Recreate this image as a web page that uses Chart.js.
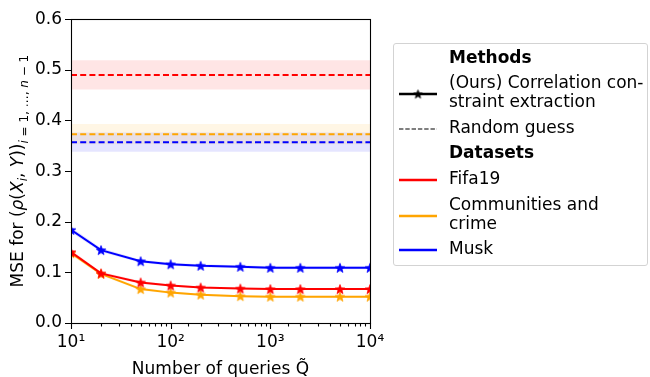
<!DOCTYPE html>
<html>
<head>
<meta charset="utf-8">
<script src="https://cdn.jsdelivr.net/npm/chart.js@4.4.1/dist/chart.umd.min.js"></script>
<style>
  html, body { margin: 0; padding: 0; background: #fff; }
  #wrap { position: relative; width: 650px; height: 377px; overflow: hidden; font-family: "DejaVu Sans", sans-serif; }
  #c { position: absolute; left: 0; top: 0; }
  #legend { position: absolute; left: 393px; top: 43px; width: 255px; height: 223px; box-sizing: border-box;
            border: 1px solid #d3d3d3; border-radius: 3px; background: rgba(255,255,255,0.8); }
  .row { position: absolute; left: 55px; font-size: 17px; line-height: 19px; color: #000; white-space: nowrap; }
  .bold { font-weight: bold; }
</style>
</head>
<body>
<div id="wrap">
  <canvas id="c" width="650" height="377"></canvas>
  <div id="legend"></div>
</div>
<script>
// ---- data ----
const queries   = [10, 20, 50, 100, 200, 500, 1000, 2000, 5000, 10000];
const fifaMSE   = [0.140, 0.098, 0.080, 0.074, 0.070, 0.068, 0.067, 0.067, 0.067, 0.067];
const crimeMSE  = [0.138, 0.097, 0.067, 0.060, 0.056, 0.053, 0.052, 0.052, 0.052, 0.052];
const muskMSE   = [0.184, 0.144, 0.122, 0.116, 0.113, 0.111, 0.109, 0.109, 0.109, 0.109];
const fifaStd   = [0.004, 0.003, 0.003, 0.002, 0.002, 0.002, 0.002, 0.002, 0.002, 0.002];
const crimeStd  = [0.004, 0.003, 0.003, 0.002, 0.002, 0.002, 0.002, 0.002, 0.002, 0.002];
const muskStd   = [0.005, 0.004, 0.003, 0.003, 0.003, 0.003, 0.003, 0.003, 0.003, 0.003];
const datasetNames = ['Fifa19', 'Communities and crime', 'Musk'];
const randomMean = [0.490, 0.373, 0.357];
const randomStd  = [0.029, 0.020, 0.019];
const yTicks = [0.0, 0.1, 0.2, 0.3, 0.4, 0.5, 0.6];
const xRange = [10, 10000];
const legendMethods = ['(Ours) Correlation con-\nstraint extraction', 'Random guess'];
const legendDatasets = ['Fifa19', 'Communities and\ncrime', 'Musk'];

const colors = ['#ff0000', '#ffa500', '#0000ff'];
const bandColors = ['rgba(255,0,0,0.10)', 'rgba(255,165,0,0.10)', 'rgba(0,0,255,0.10)'];
const haloColors = ['rgba(255,0,0,0.12)', 'rgba(255,165,0,0.12)', 'rgba(0,0,255,0.12)'];
const series = [fifaMSE, crimeMSE, muskMSE];
const stds = [fifaStd, crimeStd, muskStd];

function starCanvas(color, r) {
  const s = Math.ceil(r * 2 + 2);
  const cv = document.createElement('canvas');
  cv.width = s; cv.height = s;
  const g = cv.getContext('2d');
  const cx = s / 2, cy = s / 2 + r * 0.1;
  g.beginPath();
  for (let i = 0; i < 10; i++) {
    const rad = i % 2 === 0 ? r : r * 0.42;
    const a = -Math.PI / 2 + i * Math.PI / 5;
    const px = cx + rad * Math.cos(a), py = cy + rad * Math.sin(a);
    i === 0 ? g.moveTo(px, py) : g.lineTo(px, py);
  }
  g.closePath();
  g.fillStyle = color; g.fill();
  g.lineWidth = 0.8; g.strokeStyle = color; g.stroke();
  return cv;
}

const datasets = [];
for (let k = 0; k < 3; k++) {
  datasets.push({
    data: xRange.map(x => ({x, y: randomMean[k] + randomStd[k]})),
    borderWidth: 0, pointRadius: 0, fill: '+1', backgroundColor: bandColors[k], order: 10
  });
  datasets.push({
    data: xRange.map(x => ({x, y: randomMean[k] - randomStd[k]})),
    borderWidth: 0, pointRadius: 0, fill: false, order: 10
  });
}
for (let k = 0; k < 3; k++) {
  datasets.push({
    data: queries.map((x, i) => ({x, y: series[k][i] + stds[k][i]})),
    borderWidth: 0, pointRadius: 0, fill: '+1', backgroundColor: haloColors[k], order: 9
  });
  datasets.push({
    data: queries.map((x, i) => ({x, y: series[k][i] - stds[k][i]})),
    borderWidth: 0, pointRadius: 0, fill: false, order: 9
  });
}
for (let k = 0; k < 3; k++) {
  datasets.push({
    label: 'Random guess ' + datasetNames[k],
    data: xRange.map(x => ({x, y: randomMean[k]})),
    borderColor: colors[k], borderWidth: 2, borderDash: [6, 3.2], pointRadius: 0, fill: false, order: 5
  });
}
for (let k = 0; k < 3; k++) {
  datasets.push({
    label: datasetNames[k],
    data: queries.map((x, i) => ({x, y: series[k][i]})),
    borderColor: colors[k], borderWidth: 2, fill: false, order: 1,
    pointStyle: starCanvas(colors[k], 5), pointRadius: 5
  });
}

const sup = {'0':'⁰','1':'¹','2':'²','3':'³','4':'⁴','5':'⁵','6':'⁶','7':'⁷','8':'⁸','9':'⁹'};
function isMajor(v) { const l = Math.log10(v); return Math.abs(l - Math.round(l)) < 1e-9; }

const frameTicks = {
  id: 'frameTicks',
  afterDraw(chart) {
    const ctx = chart.ctx, a = chart.chartArea;
    ctx.save();
    ctx.strokeStyle = '#000'; ctx.lineWidth = 1.1;
    ctx.strokeRect(Math.round(a.left) + 0.5, Math.round(a.top) + 0.5, Math.round(a.right - a.left), Math.round(a.bottom - a.top));
    const xs = chart.scales.x, ys = chart.scales.y;
    ctx.beginPath();
    xs.ticks.forEach(t => {
      const px = Math.round(xs.getPixelForValue(t.value)) + 0.5;
      const len = isMajor(t.value) ? 6 : 3.5;
      ctx.moveTo(px, a.bottom); ctx.lineTo(px, a.bottom + len);
    });
    ys.ticks.forEach(t => {
      const py = Math.round(ys.getPixelForValue(t.value)) + 0.5;
      ctx.moveTo(a.left, py); ctx.lineTo(a.left - 6, py);
    });
    ctx.stroke();
    const cy = (a.top + a.bottom) / 2;
    const parts = [
      ['MSE for (', '17px "DejaVu Sans"', 0],
      ['ρ', 'italic 17px "DejaVu Sans"', 0],
      ['(', '17px "DejaVu Sans"', 0],
      ['X', 'italic 17px "DejaVu Sans"', 0],
      ['i', 'italic 12px "DejaVu Sans"', 4],
      [', ', '17px "DejaVu Sans"', 0],
      ['Y', 'italic 17px "DejaVu Sans"', 0],
      ['))', '17px "DejaVu Sans"', 0],
      ['i', 'italic 12px "DejaVu Sans"', 5],
      [' = 1, …, ', '12px "DejaVu Sans"', 5],
      ['n', 'italic 12px "DejaVu Sans"', 5],
      [' − 1', '12px "DejaVu Sans"', 5]
    ];
    let total = 0;
    parts.forEach(p => { ctx.font = p[1]; total += ctx.measureText(p[0]).width; });
    ctx.translate(23, cy);
    ctx.rotate(-Math.PI / 2);
    ctx.fillStyle = '#000';
    ctx.textBaseline = 'alphabetic';
    let x = -total / 2;
    parts.forEach(p => { ctx.font = p[1]; ctx.fillText(p[0], x, p[2]); x += ctx.measureText(p[0]).width; });
    ctx.restore();
  }
};

new Chart(document.getElementById('c'), {
  type: 'line',
  data: { datasets },
  options: {
    responsive: false, animation: false, devicePixelRatio: 1,
    layout: { padding: { top: 14, right: 280, left: 0, bottom: 0 } },
    plugins: { legend: { display: false }, tooltip: { enabled: false } },
    elements: { line: { tension: 0 } },
    scales: {
      x: {
        type: 'logarithmic', min: xRange[0], max: xRange[1],
        grid: { display: false, drawTicks: false },
        border: { display: false },
        ticks: {
          autoSkip: false, maxRotation: 0, padding: 9, color: '#000',
          font: { family: 'DejaVu Sans', size: 17 },
          callback: v => isMajor(v) ? '10' + String(Math.round(Math.log10(v))).split('').map(c => sup[c]).join('') : ''
        },
        title: { display: true, text: 'Number of queries Q̃', color: '#000', font: { family: 'DejaVu Sans', size: 17 }, padding: { top: 0, bottom: -3 } },
        afterFit: s => { s.height = 54; }
      },
      y: {
        min: 0, max: 0.6,
        afterBuildTicks: s => { s.ticks = yTicks.map(v => ({ value: v })); },
        grid: { display: false, drawTicks: false },
        border: { display: false },
        ticks: { padding: 9, color: '#000', font: { family: 'DejaVu Sans', size: 17 }, callback: v => Number(v).toFixed(1) },
        afterFit: s => { s.width = 71; }
      }
    }
  },
  plugins: [frameTicks]
});

// ---- HTML legend ----
const leg = document.getElementById('legend');
function addRow(text, top, bold) {
  const d = document.createElement('div');
  d.className = 'row' + (bold ? ' bold' : '');
  d.style.top = top + 'px';
  d.innerHTML = text.split('\n').join('<br>');
  leg.appendChild(d);
}
function addHandle(top, color, dashed, star) {
  const cv = document.createElement('canvas');
  cv.width = 42; cv.height = 14;
  cv.style.position = 'absolute';
  cv.style.left = '4px';
  cv.style.top = (top - 7) + 'px';
  const g = cv.getContext('2d');
  g.strokeStyle = color;
  g.lineWidth = dashed ? 1.2 : 2.4;
  if (dashed) g.setLineDash([4.4, 1.9]);
  g.beginPath(); g.moveTo(1, 7); g.lineTo(39, 7); g.stroke();
  if (star) {
    const s = starCanvas(color, 4.5);
    g.drawImage(s, 20 - s.width / 2, 7 - s.height / 2);
  }
  leg.appendChild(cv);
}
addRow('Methods', 4, true);
addRow(legendMethods[0], 29, false); addHandle(50, '#000', false, true);
addRow(legendMethods[1], 74, false); addHandle(85, '#000', true, false);
addRow('Datasets', 99, true);
addRow(legendDatasets[0], 125, false); addHandle(136, colors[0], false, false);
addRow(legendDatasets[1], 151, false); addHandle(172, colors[1], false, false);
addRow(legendDatasets[2], 195, false); addHandle(206, colors[2], false, false);
</script>
</body>
</html>
